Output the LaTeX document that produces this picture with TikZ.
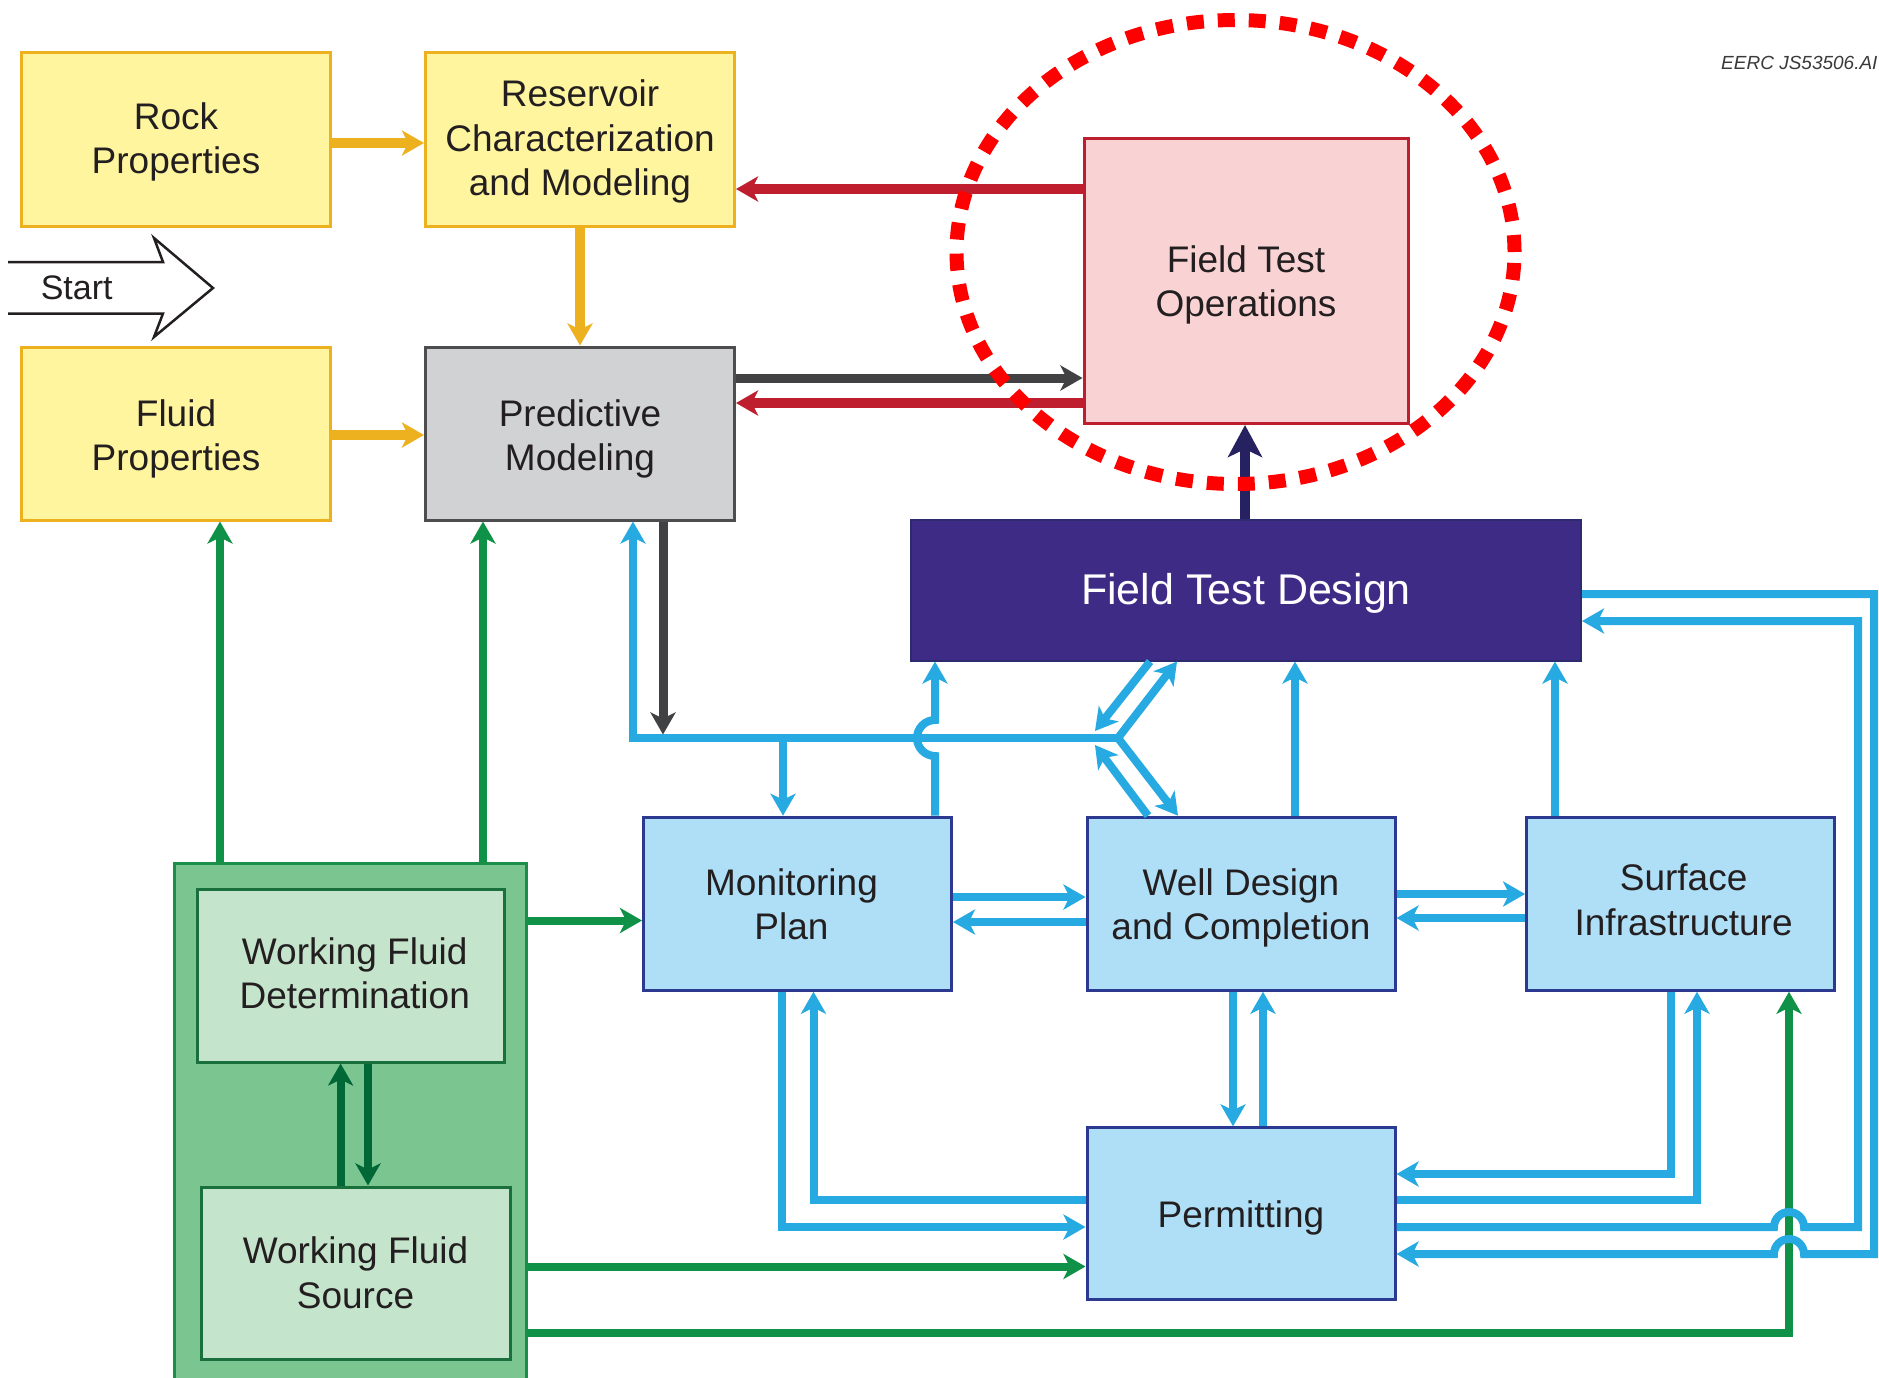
\documentclass[tikz,border=0pt]{standalone}
\usepackage{fontspec}
\setmainfont{Liberation Sans}
\usetikzlibrary{arrows.meta}
\definecolor{cyfill}{HTML}{FFF59F}
\definecolor{cydraw}{HTML}{EDB120}
\definecolor{cgfill}{HTML}{D1D2D4}
\definecolor{cgdraw}{HTML}{4D4D4F}
\definecolor{cdark}{HTML}{414042}
\definecolor{cred}{HTML}{BE1E2D}
\definecolor{cftofill}{HTML}{F9D3D4}
\definecolor{cnavyfill}{HTML}{3E2B86}
\definecolor{cnavydraw}{HTML}{2E2A6E}
\definecolor{cnavyarr}{HTML}{262262}
\definecolor{cbfill}{HTML}{AEDFF7}
\definecolor{cbdraw}{HTML}{2B3990}
\definecolor{cbline}{HTML}{27AAE1}
\definecolor{cgofill}{HTML}{7BC690}
\definecolor{cgodraw}{HTML}{1B8E48}
\definecolor{cgifill}{HTML}{C5E4CC}
\definecolor{cgidraw}{HTML}{19703C}
\definecolor{cgarr}{HTML}{0F9247}
\definecolor{cdgarr}{HTML}{006837}
\definecolor{ctxt}{HTML}{231F20}
\definecolor{ceerc}{HTML}{3A3A3A}
\definecolor{cdash}{HTML}{FF0000}
% box text: #1 vertical shift, #2 twice the horizontal shift, #3 lines
\newcommand{\boxtext}[3]{\raisebox{#1}[\height][\depth]{\hspace*{#2}\begin{tabular}{@{}c@{}}#3\end{tabular}}}
\tikzset{
  box/.style={rectangle, font=\fontsize{37}{44.5}\selectfont, text=ctxt, inner sep=0pt, line width=3pt},
  yellowbox/.style={box, fill=cyfill, draw=cydraw},
  greybox/.style={box, fill=cgfill, draw=cgdraw},
  ftobox/.style={box, fill=cftofill, draw=cred},
  navybox/.style={box, fill=cnavyfill, draw=cnavydraw, line width=2pt, text=white, font=\fontsize{43}{50}\selectfont},
  bluebox/.style={box, fill=cbfill, draw=cbdraw},
  greenouter/.style={box, fill=cgofill, draw=cgodraw},
  greeninner/.style={box, fill=cgifill, draw=cgidraw},
  yarr/.style={draw=cydraw, line width=10pt, ->},
  rarr/.style={draw=cred, line width=9.5pt, ->},
  darr/.style={draw=cdark, line width=9pt, ->},
  navyarrow/.style={draw=cnavyarr, line width=10pt, -{Stealth[length=32pt,width=34pt,inset=8pt]}},
  barr/.style={draw=cbline, line width=8pt, ->},
  bothbarr/.style={draw=cbline, line width=8pt, <->},
  garr/.style={draw=cgarr, line width=8pt, ->},
  dgarr/.style={draw=cdgarr, line width=8pt, ->}
}
\begin{document}
\begin{tikzpicture}[x=1pt,y=1pt,>={Stealth[length=22pt,width=25pt,inset=6pt]},line join=miter]
\useasboundingbox (0,0) rectangle (1879,-1377);
\fill[white] (0,0) rectangle (1879,-1377);

% boxes
\node[yellowbox, minimum width=309pt, minimum height=174pt] (rock) at (176,-139) {\boxtext{-3.6pt}{0pt}{Rock\\Properties}};
\node[yellowbox, minimum width=309pt, minimum height=174pt] (res) at (580,-139) {\boxtext{-3.5pt}{0pt}{Reservoir\\Characterization\\and Modeling}};
\node[yellowbox, minimum width=309pt, minimum height=173pt] (fluid) at (176,-433.5) {\boxtext{-6pt}{0pt}{Fluid\\Properties}};
\node[greybox, minimum width=309pt, minimum height=173pt] (pred) at (580,-433.5) {\boxtext{-6pt}{0pt}{Predictive\\Modeling}};
\node[ftobox, minimum width=324pt, minimum height=285pt] (fto) at (1246,-281) {\boxtext{-4.5pt}{0pt}{Field Test\\Operations}};
\node[navybox, minimum width=670pt, minimum height=141pt] (ftd) at (1246,-590) {\boxtext{-4.5pt}{0pt}{Field Test Design}};
\node[bluebox, minimum width=308pt, minimum height=173pt] (mon) at (797.5,-903.7) {\boxtext{-5pt}{-12pt}{Monitoring\\Plan}};
\node[bluebox, minimum width=308pt, minimum height=173pt] (well) at (1241,-903.7) {\boxtext{-5pt}{0pt}{Well Design\\and Completion}};
\node[bluebox, minimum width=308pt, minimum height=173pt] (surf) at (1680.6,-903.7) {\boxtext{-0.5pt}{6pt}{Surface\\Infrastructure}};
\node[bluebox, minimum width=308pt, minimum height=172pt] (perm) at (1241,-1213.8) {\boxtext{-4.5pt}{0pt}{Permitting}};
\node[greenouter, minimum width=351.5pt, minimum height=517pt] (wf) at (350.3,-1121.5) {};
\node[greeninner, minimum width=307.5pt, minimum height=173pt] (wfd) at (351.2,-975.5) {\boxtext{-2pt}{7pt}{Working Fluid\\Determination}};
\node[greeninner, minimum width=309pt, minimum height=172pt] (wfs) at (355.5,-1273) {\boxtext{-4pt}{0pt}{Working Fluid\\Source}};

% start arrow
\draw[ctxt, line width=2.5pt] (8,-262) -- (163,-262) -- (154,-238) -- (213,-288) -- (154,-337) -- (163,-313.5) -- (8,-313.5);
\node[font=\fontsize{34}{40}\selectfont, text=ctxt, inner sep=0pt] (start) at (76.7,-288) {Start};

% label
\node[anchor=base west, font=\fontsize{19}{23}\selectfont\itshape, text=ceerc, inner sep=0pt] (eerc) at (1721,-69) {EERC JS53506.AI};

% yellow
\draw[yarr] (rock.east |- 0,-143) -- (res.west |- 0,-143);
\draw[yarr] (res.south) -- (pred.north);
\draw[yarr] (fluid.east |- 0,-435) -- (pred.west |- 0,-435);

% red / grey / navy
\draw[rarr] (fto.west |- 0,-189) -- (res.east |- 0,-189);
\draw[darr] (pred.east |- 0,-378) -- (fto.west |- 0,-378);
\draw[rarr] (fto.west |- 0,-403) -- (pred.east |- 0,-403);
\draw[navyarrow] (ftd.north -| 1245,0) -- (fto.south -| 1245,0);

% green
\draw[garr] (wf.north -| 220,0) -- (fluid.south -| 220,0);
\draw[garr] (wf.north -| 483,0) -- (pred.south -| 483,0);
\draw[garr] (wf.east |- 0,-920.5) -- (mon.west |- 0,-920.5);
\draw[garr] (wf.east |- 0,-1266.5) -- (perm.west |- 0,-1266.5);
\draw[garr] (wf.east |- 0,-1333) -- (1789,-1333) -- (surf.south -| 1789,0);
\draw[dgarr] (wfs.north -| 340.6,0) -- (wfd.south -| 340.6,0);
\draw[dgarr] (wfd.south -| 368,0) -- (wfs.north -| 368,0);

% blue bus
\coordinate (junc) at (1118,-738);
\coordinate (busL) at (633,-738);
\coordinate (busG) at (663,-734.5);
\coordinate (busM) at (783,-738);
\coordinate (jU) at (1095,-731);
\coordinate (jD) at (1095,-745);
\draw[barr] (junc) -- (busL) -- (pred.south -| busL);
\draw[darr] (pred.south -| busG) -- (busG);
\draw[barr] (busM) -- (mon.north -| busM);
\draw[barr] (mon.north -| 935,0) -- (935,-756) arc[start angle=-90, end angle=-270, radius=18] -- (ftd.south -| 935,0);
\draw[bothbarr] (well.north -| 1178,0) -- (junc) -- (ftd.south -| 1177,0);
\draw[barr] (ftd.south -| 1150,0) -- (jU);
\draw[barr] (well.north -| 1148,0) -- (jD);
\draw[barr] (well.north -| 1295,0) -- (ftd.south -| 1295,0);
\draw[barr] (surf.north -| 1555,0) -- (ftd.south -| 1555,0);

% blue between boxes
\draw[barr] (mon.east |- 0,-897) -- (well.west |- 0,-897);
\draw[barr] (well.west |- 0,-922) -- (mon.east |- 0,-922);
\draw[barr] (well.east |- 0,-894) -- (surf.west |- 0,-894);
\draw[barr] (surf.west |- 0,-918) -- (well.east |- 0,-918);
\draw[barr] (well.south -| 1233,0) -- (perm.north -| 1233,0);
\draw[barr] (perm.north -| 1263,0) -- (well.south -| 1263,0);
\draw[barr] (mon.south -| 782,0) -- (782,-1227) -- (perm.west |- 0,-1227);
\draw[barr] (perm.west |- 0,-1200) -- (813.5,-1200) -- (mon.south -| 813.5,0);
\draw[barr] (surf.south -| 1671,0) -- (1671,-1174) -- (perm.east |- 0,-1174);
\draw[barr] (perm.east |- 0,-1200) -- (1697,-1200) -- (surf.south -| 1697,0);
\draw[barr] (perm.east |- 0,-1227) -- (1774,-1227) arc[start angle=180, end angle=0, radius=15] -- (1858,-1227) -- (1858,-621) -- (ftd.east |- 0,-621);
\draw[barr] (ftd.east |- 0,-594) -- (1874,-594) -- (1874,-1254) -- (1804,-1254) arc[start angle=0, end angle=180, radius=15] -- (perm.east |- 0,-1254);

% dashed highlight
\draw[cdash, line width=14pt, dash pattern=on 17pt off 14pt] (1235.5,-252) ellipse[x radius=279, y radius=232];
\end{tikzpicture}
\end{document}
